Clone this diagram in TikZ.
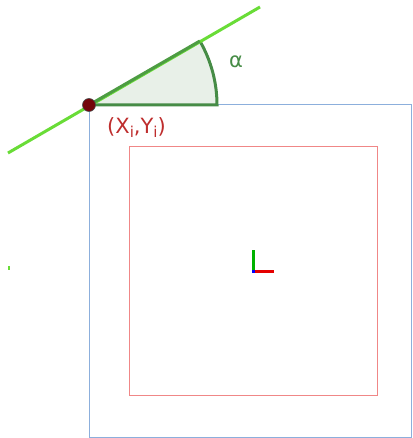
\documentclass[tikz,border=0pt]{standalone}
\usepackage{fontspec}
\usetikzlibrary{calc}
\setmainfont{DejaVu Sans}
\definecolor{bluefr}{RGB}{140,175,220}
\definecolor{redfr}{RGB}{240,135,135}
\definecolor{limeg}{RGB}{105,220,55}
\definecolor{darkg}{RGB}{70,140,70}
\definecolor{wedgef}{RGB}{232,240,232}
\definecolor{dotred}{RGB}{115,5,10}
\definecolor{lblred}{RGB}{190,45,45}
\begin{document}
\begin{tikzpicture}[x=1pt,y=-1pt,
  frame/.style={line width=1pt},
  lbl/.style={inner sep=0pt,font=\fontsize{21}{21}\selectfont}]
\useasboundingbox (0,0) rectangle (412,438);
% outer blue frame
\coordinate (b1) at (89,105);
\coordinate (b2) at (411,437);
\draw[frame,bluefr] (b1) rectangle (b2);
% inner red frame
\coordinate (r1) at (129,147);
\coordinate (r2) at (377,395);
\draw[frame,redfr] (r1) rectangle (r2);
% wedge
\coordinate (P) at (89,105);
\fill[wedgef] (P) -- ++(128,0) arc[start angle=0,end angle=-30,radius=128] -- cycle;
\draw[darkg,line width=3pt] (P) -- ++(128,0) arc[start angle=0,end angle=-30,radius=128];
% green line
\coordinate (g1) at (8,153);
\coordinate (g2) at (260,7);
\draw[limeg,line width=3pt] (g1) -- (g2);
\draw[darkg!80!limeg,line width=3pt] (P) -- ++(-30:128);
% dot
\node[circle,fill=dotred,draw=black!70,line width=0.6pt,minimum size=13pt,inner sep=0pt] (dot) at (P) {};
% labels
\node[lbl,text=darkg] (alpha) at (236,62) {α};
\node[lbl,text=lblred,anchor=west] (xy) at (107,128) {(X\raisebox{-4pt}{\fontsize{15}{15}\selectfont i},Y\raisebox{-4pt}{\fontsize{15}{15}\selectfont i})};
% small axes
\coordinate (o) at (253,271);
\coordinate (ox) at (274,271);
\coordinate (oy) at (253,250);
\draw[green!70!black,line width=3pt] (o) -- (oy);
\draw[red!90!black,line width=3pt] (o) -- (ox);
\fill[blue] ($(o)+(-1.5,-1.5)$) rectangle ++(3,3);
% small green mark at left
\coordinate (m1) at (9,266);
\coordinate (m2) at (9,270);
\draw[limeg,line width=1.5pt] (m1) -- (m2);
\end{tikzpicture}
\end{document}
